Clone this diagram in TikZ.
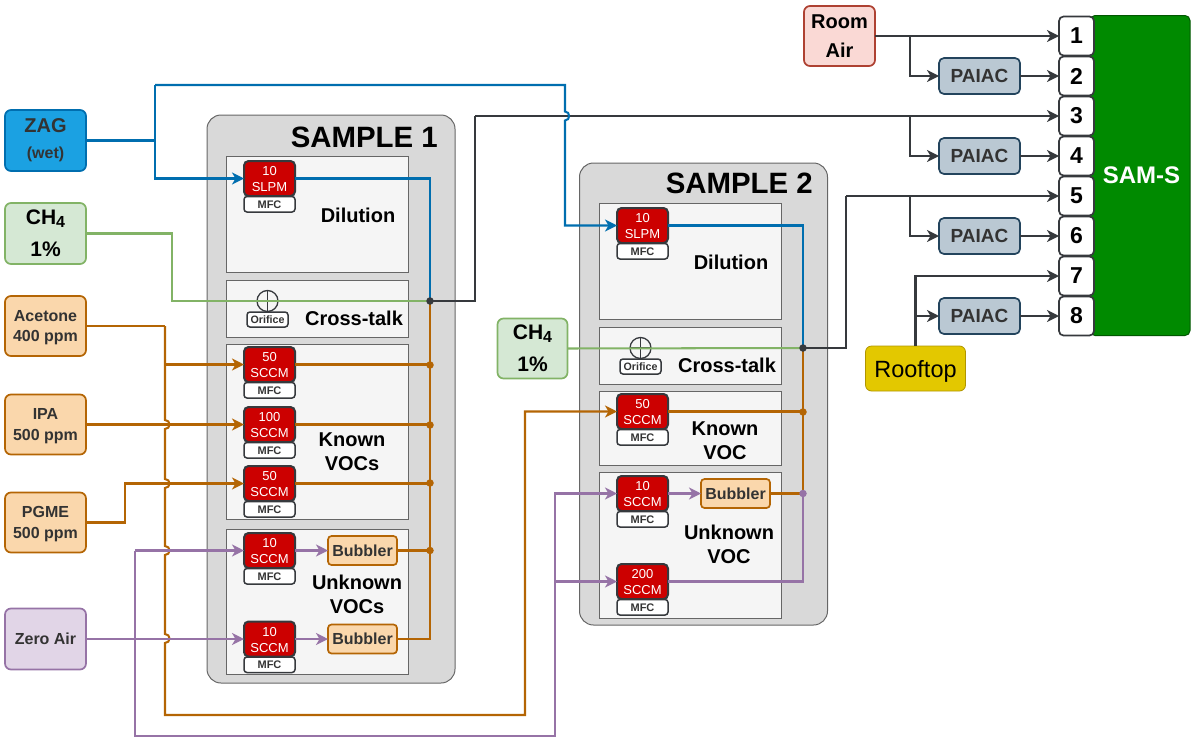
\documentclass[tikz,border=0pt]{standalone}
\usepackage{fontspec}
\setmainfont{Liberation Sans}
\usetikzlibrary{arrows.meta,calc}
\definecolor{cblue}{HTML}{006EAF}
\definecolor{cgreen}{HTML}{82B366}
\definecolor{corange}{HTML}{B46504}
\definecolor{cpurple}{HTML}{9673A6}
\definecolor{cdark}{HTML}{36393D}
\definecolor{ctext}{HTML}{333333}
\newcommand{\fs}[2]{\fontsize{#1}{#2}\selectfont}
\newcommand{\tp}[1]{\rule{0pt}{#1pt}}
\tikzset{
  base/.style={draw,rounded corners=6pt,line width=1.7pt,inner sep=0pt,outer sep=0pt,align=center},
  zagbox/.style={base,fill={rgb,255:red,27;green,161;blue,226},draw=cblue,minimum width=81pt,minimum height=61pt,text=ctext,font=\bfseries\fs{20}{26}},
  chbox/.style={base,fill={rgb,255:red,213;green,232;blue,212},draw=cgreen,minimum width=81pt,minimum height=61pt,text=black,font=\bfseries\fs{21}{32}},
  orbox/.style={base,fill={rgb,255:red,250;green,215;blue,172},draw=corange,minimum width=81pt,minimum height=60pt,text=ctext,font=\bfseries\fs{16}{20.5}},
  pubox/.style={base,fill={rgb,255:red,225;green,213;blue,231},draw=cpurple,minimum width=81pt,minimum height=61pt,text=ctext,font=\bfseries\fs{16}{20}},
  bubblerbox/.style={base,rounded corners=3.5pt,fill={rgb,255:red,250;green,215;blue,172},draw=corange,minimum width=69pt,minimum height=29pt,text=ctext,font=\bfseries\fs{16}{20}},
  roombox/.style={base,fill={rgb,255:red,250;green,217;blue,213},draw={rgb,255:red,174;green,65;blue,50},minimum width=71pt,minimum height=60pt,text=black,font=\bfseries\fs{20}{29}},
  paiacbox/.style={base,rounded corners=5pt,fill={rgb,255:red,186;green,200;blue,211},draw={rgb,255:red,35;green,68;blue,93},minimum width=81pt,minimum height=36pt,text=ctext,font=\bfseries\fs{19}{22}},
  roofbox/.style={base,line width=0.8pt,fill={rgb,255:red,227;green,200;blue,0},draw={rgb,255:red,176;green,149;blue,0},minimum width=100pt,minimum height=45pt,text=black,font=\fs{23.5}{26}},
  portbox/.style={base,rounded corners=4.5pt,fill=white,draw=cdark,minimum width=35pt,minimum height=39pt,text=black,font=\bfseries\fs{23}{26}},
  sambox/.style={base,rounded corners=5pt,line width=1pt,fill={rgb,255:red,0;green,138;blue,0},draw={rgb,255:red,0;green,87;blue,0},minimum width=105pt,minimum height=320pt,text=white,font=\bfseries\fs{24}{28}},
  samplebox/.style={draw={rgb,255:red,102;green,102;blue,102},line width=1pt,rounded corners=14pt,fill={rgb,255:red,217;green,217;blue,217},inner sep=0pt,outer sep=0pt},
  panelbox/.style={draw={rgb,255:red,102;green,102;blue,102},line width=1pt,fill={rgb,255:red,245;green,245;blue,245},inner sep=0pt,outer sep=0pt,minimum width=182pt},
  redbox/.style={base,rounded corners=4.5pt,line width=2pt,fill={rgb,255:red,204;green,0;blue,0},draw=cdark,minimum width=51pt,minimum height=35pt,text=white,font=\fs{13}{16}},
  mfcbox/.style={base,rounded corners=3pt,line width=1.5pt,fill=white,draw=cdark,minimum width=51pt,minimum height=15.5pt,text=ctext,font=\bfseries\fs{11}{12}},
  oribox/.style={base,rounded corners=3pt,line width=1.5pt,fill=white,draw=cdark,minimum width=41pt,minimum height=15pt,text=ctext,font=\bfseries\fs{10.7}{12}},
  oricircle/.style={draw=cdark,line width=1.3pt,circle,minimum size=21pt,inner sep=0pt,outer sep=0pt,
    path picture={\draw[cdark,line width=1.3pt] (path picture bounding box.north)--(path picture bounding box.south) (path picture bounding box.west)--(path picture bounding box.east);}},
  titlelbl/.style={font=\bfseries\fs{29.4}{32},text=black,inner sep=0pt,anchor=east},
  lbl/.style={font=\bfseries\fs{20}{24},text=black,inner sep=0pt,align=center},
  pipe/.style={line width=2.03pt,rounded corners=0pt},
  arr/.style={pipe,-{Stealth[length=12pt,width=12pt,inset=3.5pt]}},
  dot/.style={circle,inner sep=0pt,minimum size=7.5pt,outer sep=0pt,fill=#1},
}
\newcommand{\mfcunit}[5]{% name, x centre, y centre of red, line1, line2
  \node[redbox] (#1) at (#2,#3) {\tp{11}#4\\#5};
  \node[mfcbox,anchor=north] (#1m) at ($(#1.south)+(0,0.5)$) {MFC};
}
\begin{document}
\begin{tikzpicture}[x=1pt,y=-1pt]
\useasboundingbox (0,0) rectangle (1196,750);
% sample frames
\node[samplebox,minimum width=248pt,minimum height=568pt] (s1) at (331,399) {};
\node[samplebox,minimum width=248pt,minimum height=462pt] (s2) at (703.5,394) {};
\node[titlelbl] (s1t) at (438,137) {SAMPLE 1};
\node[titlelbl] (s2t) at (813,183) {SAMPLE 2};
% panels
\node[panelbox,minimum height=116pt] (p1a) at (317.5,214.5) {};
\node[panelbox,minimum height=56.5pt] (p1b) at (317.5,308.75) {};
\node[panelbox,minimum height=175pt] (p1c) at (317.5,432) {};
\node[panelbox,minimum height=144.5pt] (p1d) at (317.5,601.75) {};
\node[panelbox,minimum height=116pt] (p2a) at (690.25,261.5) {};
\node[panelbox,minimum height=57pt] (p2b) at (690.25,356) {};
\node[panelbox,minimum height=74pt] (p2c) at (690.25,428.5) {};
\node[panelbox,minimum height=145.5pt] (p2d) at (690.25,545.25) {};
% panel labels
\node[lbl] (l1a) at (358,215) {Dilution};
\node[lbl] (l1b) at (354,318) {Cross-talk};
\node[lbl] (l1c) at (352,452) {Known\\VOCs};
\node[lbl] (l1d) at (357,594) {Unknown\\VOCs};
\node[lbl] (l2a) at (731,262) {Dilution};
\node[lbl] (l2b) at (727,365) {Cross-talk};
\node[lbl] (l2c) at (725,441) {Known\\VOC};
\node[lbl] (l2d) at (729,544) {Unknown\\VOC};
% orifices
\node[oricircle] (o1) at (267.5,301) {};
\node[oribox] (o1b) at (267.5,319.5) {Orifice};
\node[oricircle] (o2) at (640.5,348) {};
\node[oribox] (o2b) at (640.5,366.5) {Orifice};
% sources
\node[zagbox] (zag) at (45.5,140.5) {ZAG\\\fs{16}{26}(wet)};
\node[chbox] (ch1) at (45.5,233.5) {CH\raisebox{-3pt}{\fs{16}{16}4}\\1\%};
\node[orbox] (ace) at (45.5,326) {\tp{14}Acetone\\400 ppm};
\node[orbox] (ipa) at (45.5,424.5) {\tp{14}IPA\\500 ppm};
\node[orbox] (pgme) at (45.5,522.5) {\tp{14}PGME\\500 ppm};
\node[pubox] (zero) at (45.5,639) {Zero Air};
\node[chbox,minimum width=70pt,minimum height=60pt] (ch2) at (532.5,348.5) {CH\raisebox{-3pt}{\fs{16}{16}4}\\1\%};
\node[roombox] (room) at (839.5,36) {Room\\Air};
\node[roofbox] (roof) at (915.5,368.5) {\tp{23}Rooftop};
% SAM-S and ports
\node[sambox,text width=100pt,minimum width=100pt] (sam) at (1140,175.5) {\hspace*{3pt}SAM-S};
\foreach \n/\y in {1/36,2/76,3/116,4/156,5/196,6/236,7/276,8/316}{
  \node[portbox] (port\n) at (1076.5,\y) {\n};
}
% PAIAC
\node[paiacbox] (pa1) at (979.5,76) {PAIAC};
\node[paiacbox] (pa2) at (979.5,156) {PAIAC};
\node[paiacbox] (pa3) at (979.5,236) {PAIAC};
\node[paiacbox] (pa4) at (979.5,316) {PAIAC};
% way-points
\coordinate (zj) at (155,140.5);
\coordinate (zt) at (155,85);
\coordinate (tr) at (565,85);
\coordinate (b1) at (430,301);
\coordinate (b2) at (803,348);
\coordinate (ot) at (165,326);
\coordinate (pu) at (135,550.5);
\coordinate (pd) at (135,736);
\coordinate (pr) at (555,736);
% MFCs
\mfcunit{m1}{269.5}{178.5}{10}{SLPM}
\mfcunit{m2}{269.5}{364.5}{50}{SCCM}
\mfcunit{m3}{269.5}{424.5}{100}{SCCM}
\mfcunit{m4}{269.5}{483.5}{50}{SCCM}
\mfcunit{m5}{269.5}{550.5}{10}{SCCM}
\mfcunit{m6}{269.5}{639}{10}{SCCM}
\mfcunit{n1}{642.5}{225.5}{10}{SLPM}
\mfcunit{n2}{642.5}{411.5}{50}{SCCM}
\mfcunit{n3}{642.5}{493.5}{10}{SCCM}
\mfcunit{n4}{642.5}{581.5}{200}{SCCM}
\node[bubblerbox] (bu1) at (362.5,550.5) {Bubbler};
\node[bubblerbox] (bu2) at (362.5,639) {Bubbler};
\node[bubblerbox] (bu3) at (735.5,493.5) {Bubbler};
% grey/black outlets
\draw[pipe,cdark] (b1) -- (475,301) -- (475,116);
\draw[arr,cdark] (475,116) -- (port3.west);
\draw[pipe,cdark] (b2) -- (846,348) -- (846,196);
\draw[arr,cdark] (846,196) -- (port5.west);
\draw[arr,cdark] (room.east) -- (port1.west);
\draw[arr,cdark] (910,36) |- (pa1.west);
\draw[arr,cdark] (910,116) |- (pa2.west);
\draw[arr,cdark] (910,196) |- (pa3.west);
\draw[arr,cdark] (pa1.east) -- (port2.west);
\draw[arr,cdark] (pa2.east) -- (port4.west);
\draw[arr,cdark] (pa3.east) -- (port6.west);
\draw[arr,cdark] (pa4.east) -- (port8.west);
\draw[arr,cdark] (roof.north) |- (port7.west);
\draw[arr,cdark] (915.5,316) -- (pa4.west);
% green
\draw[pipe,cgreen] (ch1.east) -- (172,233.5) -- (172,301) -- (b1);
\draw[pipe,cgreen] (ch2.east) -- (b2);
% blue
\draw[pipe,cblue] (zag.east) -- (zj);
\draw[arr,cblue] (zt) -- (155,178.5) -- (m1.west);
\draw[arr,cblue] (zt) -- (tr) -- (565,111.5) .. controls (570.5,111.5) and (570.5,120.5) .. (565,120.5) -- (565,225.5) -- (n1.west);
\draw[pipe,cblue] (m1.east) -- (430,178.5) -- (b1);
\draw[pipe,cblue] (n1.east) -- (803,225.5) -- (b2);
% orange bus sample 1
\draw[pipe,corange] (b1) -- (430,639) -- (bu2.east);
\draw[pipe,corange] (m2.east) -- (430,364.5);
\draw[pipe,corange] (m3.east) -- (430,424.5);
\draw[pipe,corange] (m4.east) -- (430,483.5);
\draw[pipe,corange] (bu1.east) -- (430,550.5);
% orange bus sample 2
\draw[pipe,corange] (b2) -- (803,493.5);
\draw[pipe,corange] (n2.east) -- (803,411.5);
\draw[pipe,corange] (bu3.east) -- (803,493.5);
% orange supply
\draw[pipe,corange] (ace.east) -- (ot);
\draw[arr,corange] (ot) -- (165,420) .. controls (171,420) and (171,429) .. (165,429) -- (165,479) .. controls (171,479) and (171,488) .. (165,488) -- (165,546) .. controls (171,546) and (171,555) .. (165,555) -- (165,634) .. controls (171,634) and (171,643) .. (165,643) -- (165,715) -- (525,715) -- (525,411.5) -- (n2.west);
\draw[arr,corange] (165,364.5) -- (m2.west);
\draw[arr,corange] (ipa.east) -- (m3.west);
\draw[arr,corange] (pgme.east) -- (125,522.5) -- (125,483.5) -- (m4.west);
% purple
\draw[arr,cpurple] (zero.east) -- (m6.west);
\draw[arr,cpurple] (m5.west -| pu) -- (m5.west);
\draw[arr,cpurple] (pu) -- (pd) -- (pr) -- (555,493.5) -- (n3.west);
\draw[arr,cpurple] (555,581.5) -- (n4.west);
\draw[arr,cpurple] (m5.east) -- (bu1.west);
\draw[arr,cpurple] (m6.east) -- (bu2.west);
\draw[arr,cpurple] (n3.east) -- (bu3.west);
\draw[pipe,cpurple] (n4.east) -- (803,581.5) -- (803,493.5);
% junctions
\node[dot=cdark] (d1) at (b1) {};
\node[dot=cdark] (d2) at (b2) {};
\node[dot=corange] (d3) at (430,365) {};
\node[dot=corange] (d4) at (430,425) {};
\node[dot=corange] (d5) at (430,483) {};
\node[dot=corange] (d6) at (430,550.5) {};
\node[dot=corange] (d7) at (803,412) {};
\node[dot=cpurple] (d8) at (803,493.5) {};
\end{tikzpicture}
\end{document}
